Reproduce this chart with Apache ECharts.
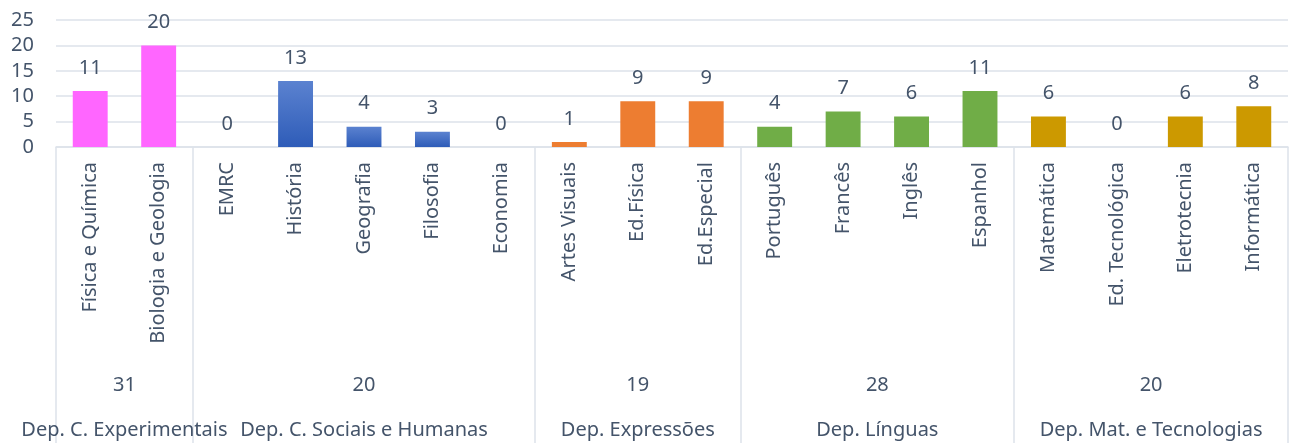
<!DOCTYPE html>
<html>
<head>
<meta charset="utf-8">
<script src="https://cdn.jsdelivr.net/npm/echarts@6/dist/echarts.min.js"></script>
<style>
  html, body { margin: 0; padding: 0; background: #fff; }
  #chart { width: 1291px; height: 443px; }
</style>
</head>
<body>
<div id="chart"></div>
<script>
const categories = [
  "Física e Química", "Biologia e Geologia",
  "EMRC", "História", "Geografia", "Filosofia", "Economia",
  "Artes Visuais", "Ed.Física", "Ed.Especial",
  "Português", "Francês", "Inglês", "Espanhol",
  "Matemática", "Ed. Tecnológica", "Eletrotecnia", "Informática"
];
const values = [11, 20, 0, 13, 4, 3, 0, 1, 9, 9, 4, 7, 6, 11, 6, 0, 6, 8];
const groupNames = [
  "Dep. C. Experimentais", "Dep. C. Sociais e Humanas", "Dep. Expressões",
  "Dep. Línguas", "Dep. Mat. e Tecnologias"
];
const groupSizes = [2, 5, 3, 4, 4];
const groupTotals = [31, 20, 19, 28, 20];
const groupColors = [
  "#ff66ff",
  { type: "linear", x: 0, y: 0, x2: 0, y2: 1,
    colorStops: [{ offset: 0, color: "#5b82d0" }, { offset: 1, color: "#2e5cb8" }] },
  "#ed7d31", "#70ad47", "#cc9900"
];
const yTicks = [0, 5, 10, 15, 20, 25];

const textColor = "#44546a";
const lineColor = "#dde2ea";
const font = "Noto Sans";

// group boundaries and centers, in category units
const bounds = [0];
groupSizes.forEach((n) => bounds.push(bounds[bounds.length - 1] + n));
const centers = groupSizes.map((n, i) => bounds[i] + n / 2);
const groupOf = [];
groupSizes.forEach((n, g) => { for (let k = 0; k < n; k++) groupOf.push(g); });

const chart = echarts.init(document.getElementById("chart"));
chart.setOption({
  animation: false,
  grid: { left: 56, right: 3, top: 20, bottom: 296 },
  xAxis: [
    {
      type: "category",
      data: categories,
      axisLine: { show: false },
      axisTick: { show: false },
      axisLabel: {
        rotate: 90, interval: 0, margin: 15,
        fontSize: 20, fontFamily: font, color: textColor
      }
    },
    {
      type: "value",
      min: 0, max: categories.length,
      position: "bottom",
      axisLine: { show: true, lineStyle: { color: lineColor, width: 1.5 } },
      axisTick: {
        show: true, length: 296, customValues: bounds,
        lineStyle: { color: lineColor, width: 1.5 }
      },
      splitLine: { show: false },
      axisLabel: {
        customValues: centers, margin: 228,
        fontSize: 20, fontFamily: font, color: textColor,
        formatter: (v) => String(groupTotals[centers.indexOf(v)])
      }
    },
    {
      type: "value",
      min: 0, max: categories.length,
      position: "bottom",
      axisLine: { show: false },
      axisTick: { show: false },
      splitLine: { show: false },
      axisLabel: {
        customValues: centers, margin: 273,
        fontSize: 20, fontFamily: font, color: textColor,
        formatter: (v) => groupNames[centers.indexOf(v)]
      }
    }
  ],
  yAxis: {
    type: "value",
    min: 0, max: 25, interval: 5,
    axisLine: { show: false },
    axisTick: { show: false },
    splitLine: { lineStyle: { color: lineColor, width: 1.5 } },
    axisLabel: {
      margin: 22, fontSize: 20, fontFamily: font, color: textColor,
      customValues: yTicks
    }
  },
  series: [
    {
      type: "bar",
      xAxisIndex: 0,
      barWidth: "51%",
      data: values.map((v, i) => ({
        value: v,
        itemStyle: { color: groupColors[groupOf[i]] }
      })),
      label: {
        show: true, position: "top", distance: 13,
        fontSize: 20, fontFamily: font, color: textColor
      }
    }
  ]
});
</script>
</body>
</html>
